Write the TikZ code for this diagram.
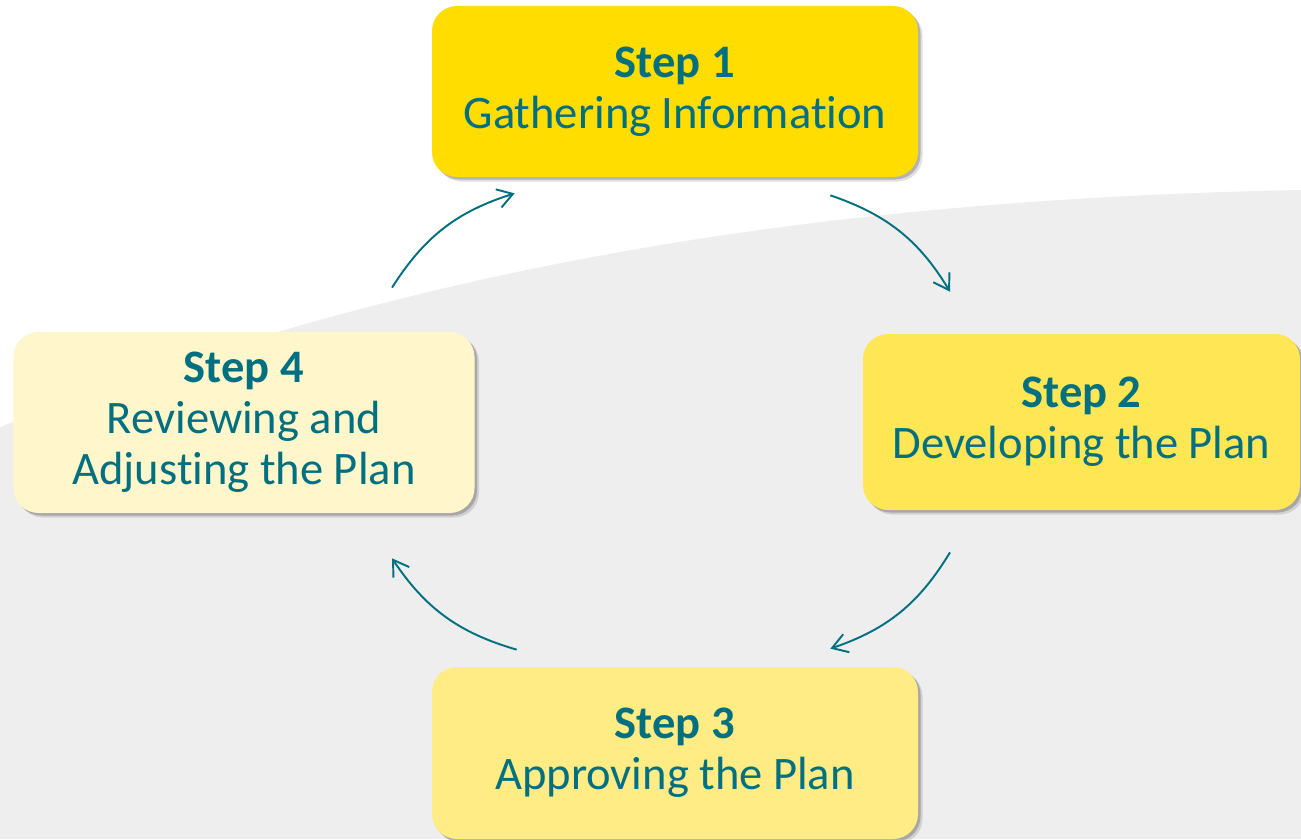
\documentclass[tikz,border=0pt]{standalone}
\usepackage{fontspec}
\setmainfont{Carlito}[Ligatures=NoCommon]
\usepackage{tikz}
\usetikzlibrary{arrows.meta,shadows,calc}

\definecolor{stepteal}{RGB}{0,112,128}
\definecolor{yellowA}{HTML}{FFDD00}
\definecolor{yellowB}{HTML}{FFE654}
\definecolor{yellowC}{HTML}{FFEC84}
\definecolor{yellowD}{HTML}{FFF6CC}
\definecolor{swoosh}{HTML}{EEEEEE}

\begin{document}
\begin{tikzpicture}[x=0.2mm,y=0.2mm,>={Straight Barb[length=3mm,width=3.8mm]},
	stepbox/.style={rectangle,rounded corners=5mm,align=center,inner sep=0pt,
		text=stepteal,font=\fontsize{26.5}{29}\selectfont,
		drop shadow={shadow xshift=0.9mm,shadow yshift=-0.9mm,opacity=0.12,fill=black},
		drop shadow={shadow xshift=0.5mm,shadow yshift=-0.5mm,opacity=0.2,fill=black}},
	cyc/.style={->,draw=stepteal,line width=1.1pt}]
	\useasboundingbox (0,0) rectangle (1301,839);
	\fill[white] (0,0) rectangle (1301,839);
	\fill[swoosh] (0,0) -- (0,412) .. controls (400,569) and (800,639) .. (1301,649) -- (1301,0) -- cycle;

	\node[stepbox,fill=yellowA,minimum width=97.2mm,minimum height=34.2mm] (S1) at (675,747.5) {\textbf{Step 1}\\Gathering Information};
	\node[stepbox,fill=yellowB,minimum width=87.4mm,minimum height=35.2mm] (S2) at (1081.5,417) {\textbf{Step 2}\\Developing the Plan};
	\node[stepbox,fill=yellowC,minimum width=97.2mm,minimum height=34.4mm] (S3) at (675,86) {\textbf{Step 3}\\Approving the Plan};
	\node[stepbox,fill=yellowD,minimum width=92.2mm,minimum height=36.2mm] (S4) at (244,416.5) {\textbf{Step 4}\\Reviewing and\\Adjusting the Plan};

	\draw[cyc] ($(S4.north)+(148,44)$) to[bend left=20] ($(S1.south west)+(83,-16)$);
	\draw[cyc] ($(S1.south east)+(-88,-18)$) to[bend left=20] ($(S2.north)+(-131.5,42)$);
	\draw[cyc] ($(S2.south)+(-131.5,-42)$) to[bend left=20] ($(S3.north east)+(-88,18)$);
	\draw[cyc] ($(S3.north west)+(85,17)$) to[bend left=20] ($(S4.south)+(148,-45)$);
\end{tikzpicture}
\end{document}
